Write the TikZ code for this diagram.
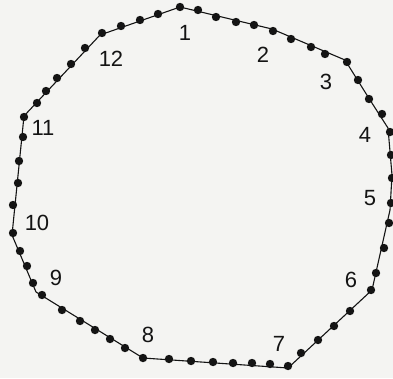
\documentclass[tikz,border=0pt]{standalone}
\usepackage{fontspec}
\setmainfont{Liberation Sans}
\definecolor{paper}{HTML}{F4F4F2}
\definecolor{ink}{HTML}{141414}
\begin{document}
\begin{tikzpicture}[x=1pt,y=-1pt,
  edge/.style={draw=ink,line width=1.1pt,line join=round},
  bead/.style={fill=ink},
  num/.style={text=ink,font=\fontsize{22}{24}\selectfont,inner sep=0pt}]
\fill[paper] (0,0) rectangle (393,378);
\useasboundingbox (0,0) rectangle (393,378);
% polygon corners
\coordinate (p1) at (180,7);
\coordinate (p2) at (272,29);
\coordinate (p3) at (345,60);
\coordinate (p4) at (370,100);
\coordinate (p5) at (388,128);
\coordinate (p6) at (392,175);
\coordinate (p7) at (390,210);
\coordinate (p8) at (372,290);
\coordinate (p9) at (288,368);
\coordinate (p10) at (143,358);
\coordinate (p11) at (36,292);
\coordinate (p12) at (12,235);
\coordinate (p13) at (24,116);
\coordinate (p14) at (100,35);
\draw[edge] (p1) -- (p2) -- (p3) -- (p4) -- (p5) -- (p6) -- (p7) -- (p8)
  -- (p9) -- (p10) -- (p11) -- (p12) -- (p13) -- (p14) -- cycle;
% beads
\foreach \x/\y in {158/14,140/20,121/26,102/33,85/48,71/64,57/78,46/91,37/103,
  24/117,23/137,19/161,18/183,13/205,13/233,20/251,27/266,33/283,42/295,
  62/310,80/321,95/330,110/339,125/348,143/358,169/359,191/361,213/362,
  233/363,252/363,270/364,288/366,301/353,318/340,334/326,350/311,371/290,
  376/273,384/248,389/223,391/203,392/178,391/155,390/132,382/114,369/99,
  358/80,347/62,325/54,311/47,291/39,273/31,254/25,236/22,216/17,198/10,180/7}
  \fill[bead] (\x,\y) circle [radius=4.2pt];
% labels
\node[num] (n1) at (185,33) {1};
\node[num] (n2) at (263,55) {2};
\node[num] (n3) at (326,82) {3};
\node[num] (n4) at (365,135) {4};
\node[num] (n5) at (370,198) {5};
\node[num] (n6) at (351,280) {6};
\node[num] (n7) at (279,344) {7};
\node[num] (n8) at (148,335) {8};
\node[num] (n9) at (56,278) {9};
\node[num] (n10) at (37,223) {10};
\node[num] (n11) at (43,128) {11};
\node[num] (n12) at (111,59) {12};
\end{tikzpicture}
\end{document}
